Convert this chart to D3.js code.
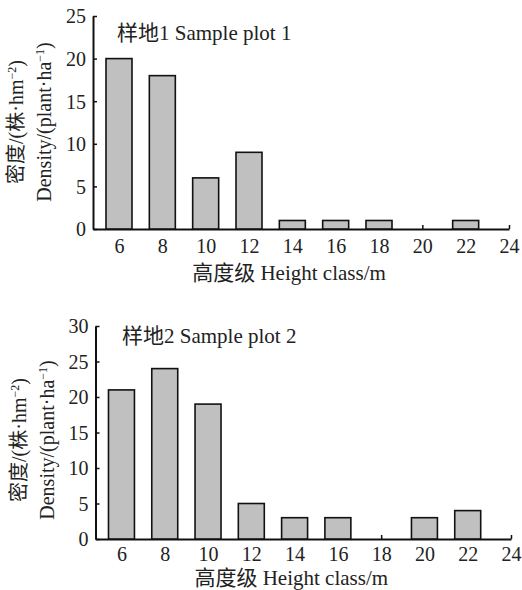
<!DOCTYPE html>
<html>
<head>
<meta charset="utf-8">
<script src="https://cdn.jsdelivr.net/npm/d3@7"></script>
<style>
  body { margin: 0; background: #fff; }
  svg { display: block; }
  text { font-family: "Liberation Serif", "Times New Roman", "Noto Sans CJK SC", serif; fill: #222; }
</style>
</head>
<body>
<div id="chart"></div>
<script>
// height classes (m)
const heightClasses = [6, 8, 10, 12, 14, 16, 18, 20, 22];
const xTicks = [6, 8, 10, 12, 14, 16, 18, 20, 22, 24];

// density, plant per ha
const plot1Density = [20, 18, 6, 9, 1, 1, 1, 0, 1];
const plot2Density = [21, 24, 19, 5, 3, 3, 0, 3, 4];

const plot1Ticks = [0, 5, 10, 15, 20, 25];
const plot2Ticks = [0, 5, 10, 15, 20, 25, 30];

const panels = [
    { title: "样地1 Sample plot 1", values: plot1Density, yMax: 25, yTicks: plot1Ticks,
      left: 93, right: 509, top: 16, bottom: 229, titleX: 117, titleY: 40, xPad: 10, xTitleY: 280, yTitleY: 122 },
    { title: "样地2 Sample plot 2", values: plot2Density, yMax: 30, yTicks: plot2Ticks,
      left: 95.5, right: 511, top: 326, bottom: 539, titleX: 122, titleY: 343, xPad: 8, xTitleY: 585, yTitleY: 440 }
];

const svg = d3.select("#chart")
    .append("svg")
    .attr("width", 522)
    .attr("height", 590);

panels.forEach(function(p) {
    let g = svg.append("g");

    let x = d3.scaleLinear().domain([4.8, 24]).range([p.left, p.right]);
    let y = d3.scaleLinear().domain([0, p.yMax]).range([p.bottom, p.top]);
    let barW = x(6.6) - x(5.4);

    // axes, ticks point inward
    let xAxis = g.append("g")
        .attr("transform", "translate(0," + p.bottom + ")")
        .call(d3.axisBottom(x).tickValues(xTicks).tickSizeInner(-4).tickSizeOuter(0).tickPadding(p.xPad));
    let yAxis = g.append("g")
        .attr("transform", "translate(" + p.left + ",0)")
        .call(d3.axisLeft(y).tickValues(p.yTicks).tickSizeInner(-4).tickSizeOuter(0).tickPadding(7));

    [xAxis, yAxis].forEach(function(a) {
        a.attr("font-family", null);
        a.select(".domain").attr("stroke", "#111").attr("stroke-width", 2);
        a.selectAll(".tick line").attr("stroke", "#111").attr("stroke-width", 1.5);
        a.selectAll(".tick text")
            .attr("fill", "#222")
            .style("font-family", "'Liberation Serif', serif")
            .style("font-size", "20px");
    });
    yAxis.selectAll(".tick text").attr("dy", "0.34em");

    // bars
    g.selectAll("rect.bar")
        .data(p.values)
        .enter()
        .append("rect")
        .attr("class", "bar")
        .attr("x", (d, i) => x(heightClasses[i]) - barW / 2)
        .attr("width", barW)
        .attr("y", d => y(d))
        .attr("height", d => y(0) - y(d))
        .attr("fill", d => d > 0 ? "#c0c0c0" : "none")
        .attr("stroke", d => d > 0 ? "#111" : "none")
        .attr("stroke-width", 1.6);

    // panel title
    g.append("text")
        .attr("x", p.titleX)
        .attr("y", p.titleY)
        .style("font-size", "21px")
        .text(p.title);

    // x axis title
    g.append("text")
        .attr("x", (p.left + p.right) / 2 - 12)
        .attr("y", p.xTitleY)
        .attr("text-anchor", "middle")
        .style("font-size", "21px")
        .text("高度级 Height class/m");

    // y axis title, two lines
    let yt = g.append("text")
        .attr("transform", "translate(" + (p.left - 70) + "," + p.yTitleY + ") rotate(-90)")
        .attr("text-anchor", "middle")
        .attr("fill", "#333")
        .style("font-size", "20px");
    yt.append("tspan").text("密度/(株·hm");
    yt.append("tspan").attr("baseline-shift", "super").style("font-size", "12px").text("−2");
    yt.append("tspan").text(")");

    let yt2 = g.append("text")
        .attr("transform", "translate(" + (p.left - 42) + "," + p.yTitleY + ") rotate(-90)")
        .attr("text-anchor", "middle")
        .style("font-size", "20px");
    yt2.append("tspan").text("Density/(plant·ha");
    yt2.append("tspan").attr("baseline-shift", "super").style("font-size", "12px").text("−1");
    yt2.append("tspan").text(")");
});
</script>
</body>
</html>
